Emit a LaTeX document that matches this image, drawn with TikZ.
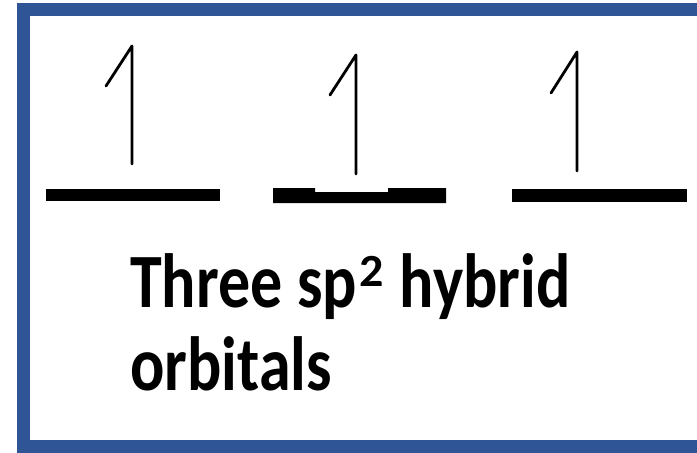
\documentclass[tikz,border=0pt]{standalone}
\usepackage{fontspec}
\setmainfont{Carlito}
\definecolor{frameblue}{RGB}{47,85,151}
\newcommand{\supertwo}{\hspace{2pt}\raisebox{17pt}{\scalebox{0.75}[0.6]{2}}\hspace{2pt}}
\begin{document}
\begin{tikzpicture}[x=1pt,y=-1pt,
  bar/.style={fill=black,draw=none},
  spin/.style={line width=2.8pt,line cap=round,line join=round},
  label/.style={font=\bfseries\fontsize{64}{80}\selectfont,anchor=base west,inner sep=0pt}]
\useasboundingbox (0,0) rectangle (697,453);
\fill[white] (0,0) rectangle (697,453);
\draw[frameblue,line width=13pt] (23.5,9.5) rectangle (760,446.5);
% orbital bars
\fill[bar] (46,189) rectangle (220,201);
\fill[bar] (273,188) -- (315,188) -- (315,192) -- (388,192) -- (388,188) -- (446,188) -- (446,203) -- (273,203) -- cycle;
\fill[bar] (512,189) rectangle (687,202);
% half arrows
\coordinate (a1b) at (132,164); \coordinate (a1t) at (132,46); \coordinate (a1h) at (106,86);
\coordinate (a2b) at (356,174); \coordinate (a2t) at (356,55); \coordinate (a2h) at (330,95);
\coordinate (a3b) at (577,171); \coordinate (a3t) at (577,52); \coordinate (a3h) at (551,93);
\draw[spin] (a1b) -- (a1t) -- (a1h);
\draw[spin] (a2b) -- (a2t) -- (a2h);
\draw[spin] (a3b) -- (a3t) -- (a3h);
% text
\node[label] (t1) at (130,307) {\scalebox{1}[1.2]{Three sp\supertwo\ hybrid}};
\node[label] (t2) at (130,390) {\scalebox{1}[1.2]{orbitals}};
\end{tikzpicture}
\end{document}
